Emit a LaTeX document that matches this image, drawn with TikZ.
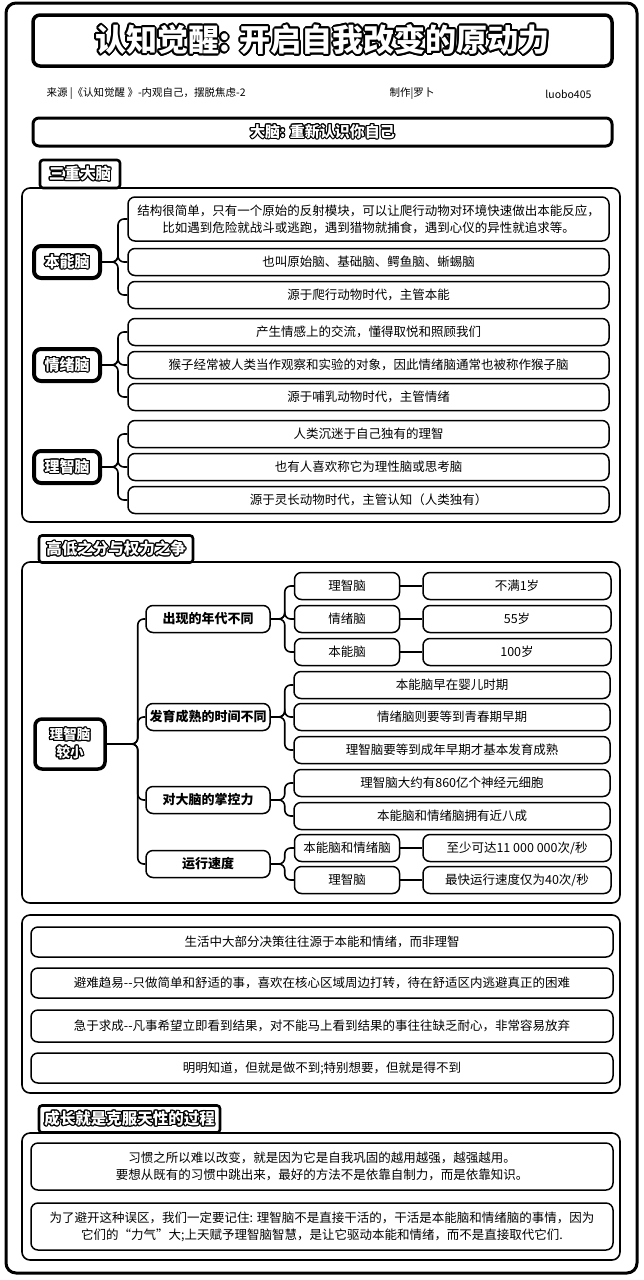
\documentclass[tikz,border=0pt]{standalone}
\usepackage{fontspec}
\setmainfont{Noto Sans CJK SC}
\usepackage{xcolor}
\usepackage{contour}
\contourlength{1.1pt}
\usepackage{tikz}
\usetikzlibrary{positioning}
\newcommand{\outl}[1]{\textcolor{white}{\contour{black}{#1}}}
\tikzset{
  frame/.style={draw=black,line width=3pt,rounded corners=10pt},
  panel/.style={draw=black,line width=1.6pt,rounded corners=8pt},
  tabbox/.style={draw=black,line width=2.6pt,rounded corners=3pt,fill=white,inner sep=1pt,font=\fontsize{15.5}{18}\selectfont\bfseries},
  leaf/.style={draw=black,line width=1.5pt,rounded corners=7pt,fill=white,align=center,inner sep=2pt,font=\fontsize{12.5}{17}\selectfont},
  hub/.style={draw=black,line width=4pt,rounded corners=7pt,fill=white,align=center,inner sep=2pt,font=\fontsize{15}{18}\selectfont\bfseries},
  lvl/.style={leaf,font=\fontsize{13}{16}\selectfont\bfseries},
  conn/.style={draw=black,line width=1.6pt,rounded corners=6pt}
}

\begin{document}
\begin{tikzpicture}[x=1pt,y=-1pt]
\useasboundingbox (0,0) rectangle (643,1280);
\def\wl{481pt}
\def\hl{27pt}
\draw[frame] (6,3) rectangle (637,1273);
% title
\node[draw=black,line width=3.5pt,rounded corners=7pt,minimum width=579pt,minimum height=51pt,font=\fontsize{31}{34}\selectfont\bfseries] (title) at (322.5,40.5) {\contourlength{1.7pt}\outl{认知觉醒: 开启自我改变的原动力}};
\node[anchor=west,font=\fontsize{10.5}{12}\selectfont] (src) at (43,94) {来源 |《认知觉醒 》-内观自己，摆脱焦虑-2};
\node[font=\fontsize{10.5}{12}\selectfont] (made) at (412,94) {制作|罗卜};
\node[anchor=east,font=\fontsize{10.5}{12}\selectfont] (id) at (595,94) {luobo405};
\node[draw=black,line width=3pt,rounded corners=6pt,minimum width=579pt,minimum height=28pt,font=\fontsize{15}{17}\selectfont\bfseries] (head) at (322.5,132) {\outl{大脑: 重新认识你自己}};
% three brains
\node[tabbox,minimum width=80pt,minimum height=28pt] (tab1) at (80,174) {\outl{三重大脑}};
\draw[panel] (22,188) rectangle (620,522);
\node[hub,minimum width=66pt,minimum height=32pt] (p1) at (67,262) {\outl{本能脑}};
\node[leaf,minimum width=\wl,minimum height=44pt] (c11) at (368.5,219) {结构很简单，只有一个原始的反射模块，可以让爬行动物对环境快速做出本能反应，\\比如遇到危险就战斗或逃跑，遇到猎物就捕食，遇到心仪的异性就追求等。};
\node[leaf,minimum width=\wl,minimum height=\hl] (c12) at (368.5,262) {也叫原始脑、基础脑、鳄鱼脑、蜥蜴脑};
\node[leaf,minimum width=\wl,minimum height=\hl] (c13) at (368.5,295) {源于爬行动物时代，主管本能};
\node[hub,minimum width=66pt,minimum height=32pt] (p2) at (67,365) {\outl{情绪脑}};
\node[leaf,minimum width=\wl,minimum height=\hl] (c21) at (368.5,332) {产生情感上的交流，懂得取悦和照顾我们};
\node[leaf,minimum width=\wl,minimum height=\hl] (c22) at (368.5,365) {猴子经常被人类当作观察和实验的对象，因此情绪脑通常也被称作猴子脑};
\node[leaf,minimum width=\wl,minimum height=\hl] (c23) at (368.5,397) {源于哺乳动物时代，主管情绪};
\node[hub,minimum width=66pt,minimum height=32pt] (p3) at (67,467) {\outl{理智脑}};
\node[leaf,minimum width=\wl,minimum height=\hl] (c31) at (368.5,434) {人类沉迷于自己独有的理智};
\node[leaf,minimum width=\wl,minimum height=\hl] (c32) at (368.5,467) {也有人喜欢称它为理性脑或思考脑};
\node[leaf,minimum width=\wl,minimum height=\hl] (c33) at (368.5,500) {源于灵长动物时代，主管认知（人类独有）};
\foreach \p/\c in {p1/c11,p1/c12,p1/c13,p2/c21,p2/c22,p2/c23,p3/c31,p3/c32,p3/c33}
  \draw[conn] (\p.east) -- ++(16,0) |- (\c.west);
% high and low
\node[tabbox,minimum width=154pt,minimum height=27pt] (tab2) at (116,549) {\outl{高低之分与权力之争}};
\draw[panel] (22,562) rectangle (620,903);
\node[hub,line width=3.5pt,minimum width=70pt,minimum height=50pt,font=\fontsize{13.5}{18}\selectfont\bfseries] (root) at (70,744) {\outl{理智脑}\\\outl{较小}};
\node[lvl,minimum width=124pt,minimum height=\hl] (a1) at (208,619) {出现的年代不同};
\node[lvl,minimum width=124pt,minimum height=\hl] (a2) at (208,717) {发育成熟的时间不同};
\node[lvl,minimum width=124pt,minimum height=\hl] (a3) at (208,800) {对大脑的掌控力};
\node[lvl,minimum width=124pt,minimum height=\hl] (a4) at (208,864) {运行速度};
\node[leaf,minimum width=105pt,minimum height=\hl] (b1) at (347,586) {理智脑};
\node[leaf,minimum width=105pt,minimum height=\hl] (b2) at (347,619) {情绪脑};
\node[leaf,minimum width=105pt,minimum height=\hl] (b3) at (347,652) {本能脑};
\node[leaf,minimum width=188pt,minimum height=\hl] (d1) at (517,586) {不满1岁};
\node[leaf,minimum width=188pt,minimum height=\hl] (d2) at (517,619) {55岁};
\node[leaf,minimum width=188pt,minimum height=\hl] (d3) at (517,652) {100岁};
\node[leaf,minimum width=316pt,minimum height=\hl] (e1) at (452,685) {本能脑早在婴儿时期};
\node[leaf,minimum width=316pt,minimum height=\hl] (e2) at (452,717) {情绪脑则要等到青春期早期};
\node[leaf,minimum width=316pt,minimum height=\hl] (e3) at (452,750) {理智脑要等到成年早期才基本发育成熟};
\node[leaf,minimum width=316pt,minimum height=\hl] (f1) at (452,783) {理智脑大约有860亿个神经元细胞};
\node[leaf,minimum width=316pt,minimum height=\hl] (f2) at (452,816) {本能脑和情绪脑拥有近八成};
\node[leaf,minimum width=105pt,minimum height=\hl] (g1) at (347,848) {本能脑和情绪脑};
\node[leaf,minimum width=105pt,minimum height=\hl] (g2) at (347,880) {理智脑};
\node[leaf,minimum width=188pt,minimum height=\hl] (h1) at (517,848) {至少可达11 000 000次/秒};
\node[leaf,minimum width=188pt,minimum height=\hl] (h2) at (517,880) {最快运行速度仅为40次/秒};
\foreach \c in {a1,a2,a3,a4}
  \draw[conn] (root.east) -- ++(31,0) |- (\c.west);
\foreach \p/\c in {a1/b1,a1/b2,a1/b3,a2/e1,a2/e2,a2/e3,a3/f1,a3/f2,a4/g1,a4/g2}
  \draw[conn] (\p.east) -- ++(14,0) |- (\c.west);
\foreach \p/\c in {b1/d1,b2/d2,b3/d3,g1/h1,g2/h2}
  \draw[conn] (\p.east) -- (\c.west);
% everyday life
\draw[panel] (22,915) rectangle (620,1093);
\node[leaf,minimum width=582pt,minimum height=30pt] (l1) at (322,942) {生活中大部分决策往往源于本能和情绪，而非理智};
\node[leaf,minimum width=582pt,minimum height=30pt] (l2) at (322,983) {避难趋易-{}-只做简单和舒适的事，喜欢在核心区域周边打转，待在舒适区内逃避真正的困难};
\node[leaf,minimum width=582pt,minimum height=32pt] (l3) at (322,1026) {急于求成-{}-凡事希望立即看到结果，对不能马上看到结果的事往往缺乏耐心，非常容易放弃};
\node[leaf,minimum width=582pt,minimum height=30pt] (l4) at (322,1068) {明明知道，但就是做不到;特别想要，但就是得不到};
% growth
\node[tabbox,minimum width=181pt,minimum height=27pt] (tab3) at (129.5,1119) {\outl{成长就是克服天性的过程}};
\draw[panel] (22,1133) rectangle (620,1260);
\node[leaf,minimum width=582pt,minimum height=47pt] (g11) at (322,1166.5) {习惯之所以难以改变，就是因为它是自我巩固的越用越强，越强越用。\\要想从既有的习惯中跳出来，最好的方法不是依靠自制力，而是依靠知识。};
\node[leaf,minimum width=582pt,minimum height=47pt] (g12) at (322,1226.5) {为了避开这种误区，我们一定要记住: 理智脑不是直接干活的，干活是本能脑和情绪脑的事情，因为\\它们的“力气”大;上天赋予理智脑智慧，是让它驱动本能和情绪，而不是直接取代它们.};
\end{tikzpicture}
\end{document}
